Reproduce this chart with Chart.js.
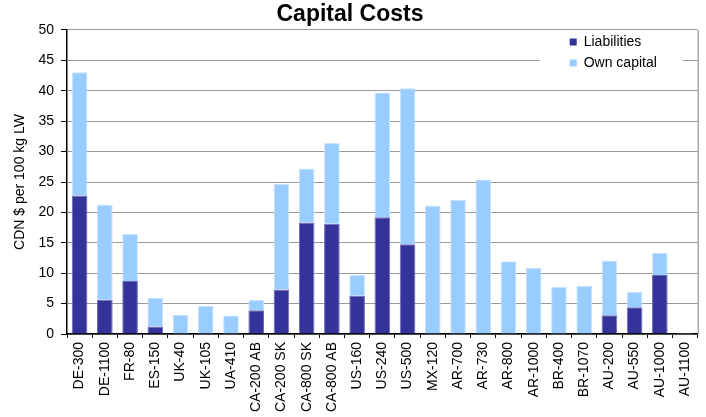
<!DOCTYPE html>
<html>
<head>
<meta charset="utf-8">
<script src="https://cdn.jsdelivr.net/npm/chart.js@4/dist/chart.umd.min.js"></script>
<style>
  html, body { margin: 0; padding: 0; background: #fff; }
  #wrap { width: 706px; height: 417px; }
</style>
</head>
<body>
<div id="wrap"><canvas id="costChart" width="706" height="417"></canvas></div>
<script>
var farms = ["DE-300", "DE-1100", "FR-80", "ES-150", "UK-40", "UK-105", "UA-410", "CA-200 AB", "CA-200 SK",
    "CA-800 SK", "CA-800 AB", "US-160", "US-240", "US-500", "MX-120", "AR-700", "AR-730", "AR-800",
    "AR-1000", "BR-400", "BR-1070", "AU-200", "AU-550", "AU-1000", "AU-1100"];
var liabilities = [22.8, 5.65, 8.7, 1.25, 0, 0, 0, 3.9, 7.3, 18.35, 18.15, 6.3, 19.2, 14.75,
    0, 0, 0, 0, 0, 0, 0, 3.1, 4.38, 9.7, 0];
var ownCapital = [20.25, 15.65, 7.75, 4.72, 3.17, 4.65, 3.06, 1.75, 17.4, 8.85, 13.25, 3.4, 20.5, 25.65,
    21.15, 22.1, 25.4, 11.95, 10.85, 7.73, 7.95, 9.0, 2.58, 3.67, 0.15];
var yTicks = [0, 5, 10, 15, 20, 25, 30, 35, 40, 45, 50];

var fontFamily = "'Liberation Sans', Arial, sans-serif";

// legend box inside the plot, top right, like the excel original
var boxLegend = {
    id: 'boxLegend',
    afterDraw: function (chart) {
        var ctx = chart.ctx;
        var area = chart.chartArea;
        var x = area.right - 128;
        ctx.save();
        ctx.fillStyle = '#fff';
        ctx.fillRect(x - 30, area.top + 2, 143, 40);
        ctx.font = '14px ' + fontFamily;
        ctx.textBaseline = 'middle';
        chart.data.datasets.forEach(function (ds, i) {
            var y = area.top + 12 + i * 21;
            ctx.fillStyle = ds.backgroundColor;
            ctx.fillRect(x, y - 3.5, 7, 7);
            ctx.fillStyle = '#000';
            ctx.fillText(ds.label, x + 14, y);
        });
        ctx.restore();
    },
    beforeDatasetsDraw: function (chart) {
        var ctx = chart.ctx;
        var area = chart.chartArea;
        ctx.save();
        ctx.strokeStyle = '#808080';
        ctx.lineWidth = 1;
        ctx.beginPath();
        ctx.moveTo(area.right + 0.5, area.top);
        ctx.lineTo(area.right + 0.5, area.bottom);
        ctx.stroke();
        ctx.restore();
    }
};

new Chart(document.getElementById("costChart"), {
    type: 'bar',
    data: {
        labels: farms,
        datasets: [
            {
                label: 'Liabilities',
                backgroundColor: '#333399',
                borderColor: '#6b6bb5',
                borderWidth: 1,
                data: liabilities
            },
            {
                label: 'Own capital',
                backgroundColor: '#99ccff',
                borderColor: '#c9e3ff',
                borderWidth: 1,
                data: ownCapital
            }
        ]
    },
    options: {
        responsive: false,
        animation: false,
        layout: { padding: { left: 0, right: 6, top: 0, bottom: 0 } },
        datasets: { bar: { barPercentage: 0.62, categoryPercentage: 1 } },
        plugins: {
            legend: { display: false },
            tooltip: { enabled: false },
            title: {
                display: true,
                text: 'Capital Costs',
                color: '#000',
                font: { family: fontFamily, size: 23, weight: 'bold', lineHeight: 1.2 },
                padding: { top: 1, bottom: 1.4 }
            }
        },
        scales: {
            x: {
                stacked: true,
                grid: { display: true, drawOnChartArea: false, offset: true, tickLength: 4, tickColor: '#000' },
                border: { color: '#000', width: 1.5 },
                ticks: {
                    color: '#000',
                    font: { family: fontFamily, size: 14 },
                    minRotation: 90,
                    maxRotation: 90,
                    autoSkip: false,
                    padding: 4
                },
                afterFit: function (scale) { scale.height = 83; }
            },
            y: {
                stacked: true,
                min: 0,
                max: 50,
                afterBuildTicks: function (scale) {
                    scale.ticks = yTicks.map(function (v) { return { value: v }; });
                },
                grid: { color: '#999999', tickLength: 6, tickColor: '#000' },
                border: { color: '#000', width: 1.5 },
                ticks: {
                    color: '#000',
                    font: { family: fontFamily, size: 14 },
                    padding: 7
                },
                title: {
                    display: true,
                    text: 'CDN $ per 100 kg LW',
                    color: '#000',
                    font: { family: fontFamily, size: 14 },
                    padding: { top: 12, bottom: 0 }
                },
                afterFit: function (scale) { scale.width = 67; }
            }
        }
    },
    plugins: [boxLegend]
});
</script>
</body>
</html>
